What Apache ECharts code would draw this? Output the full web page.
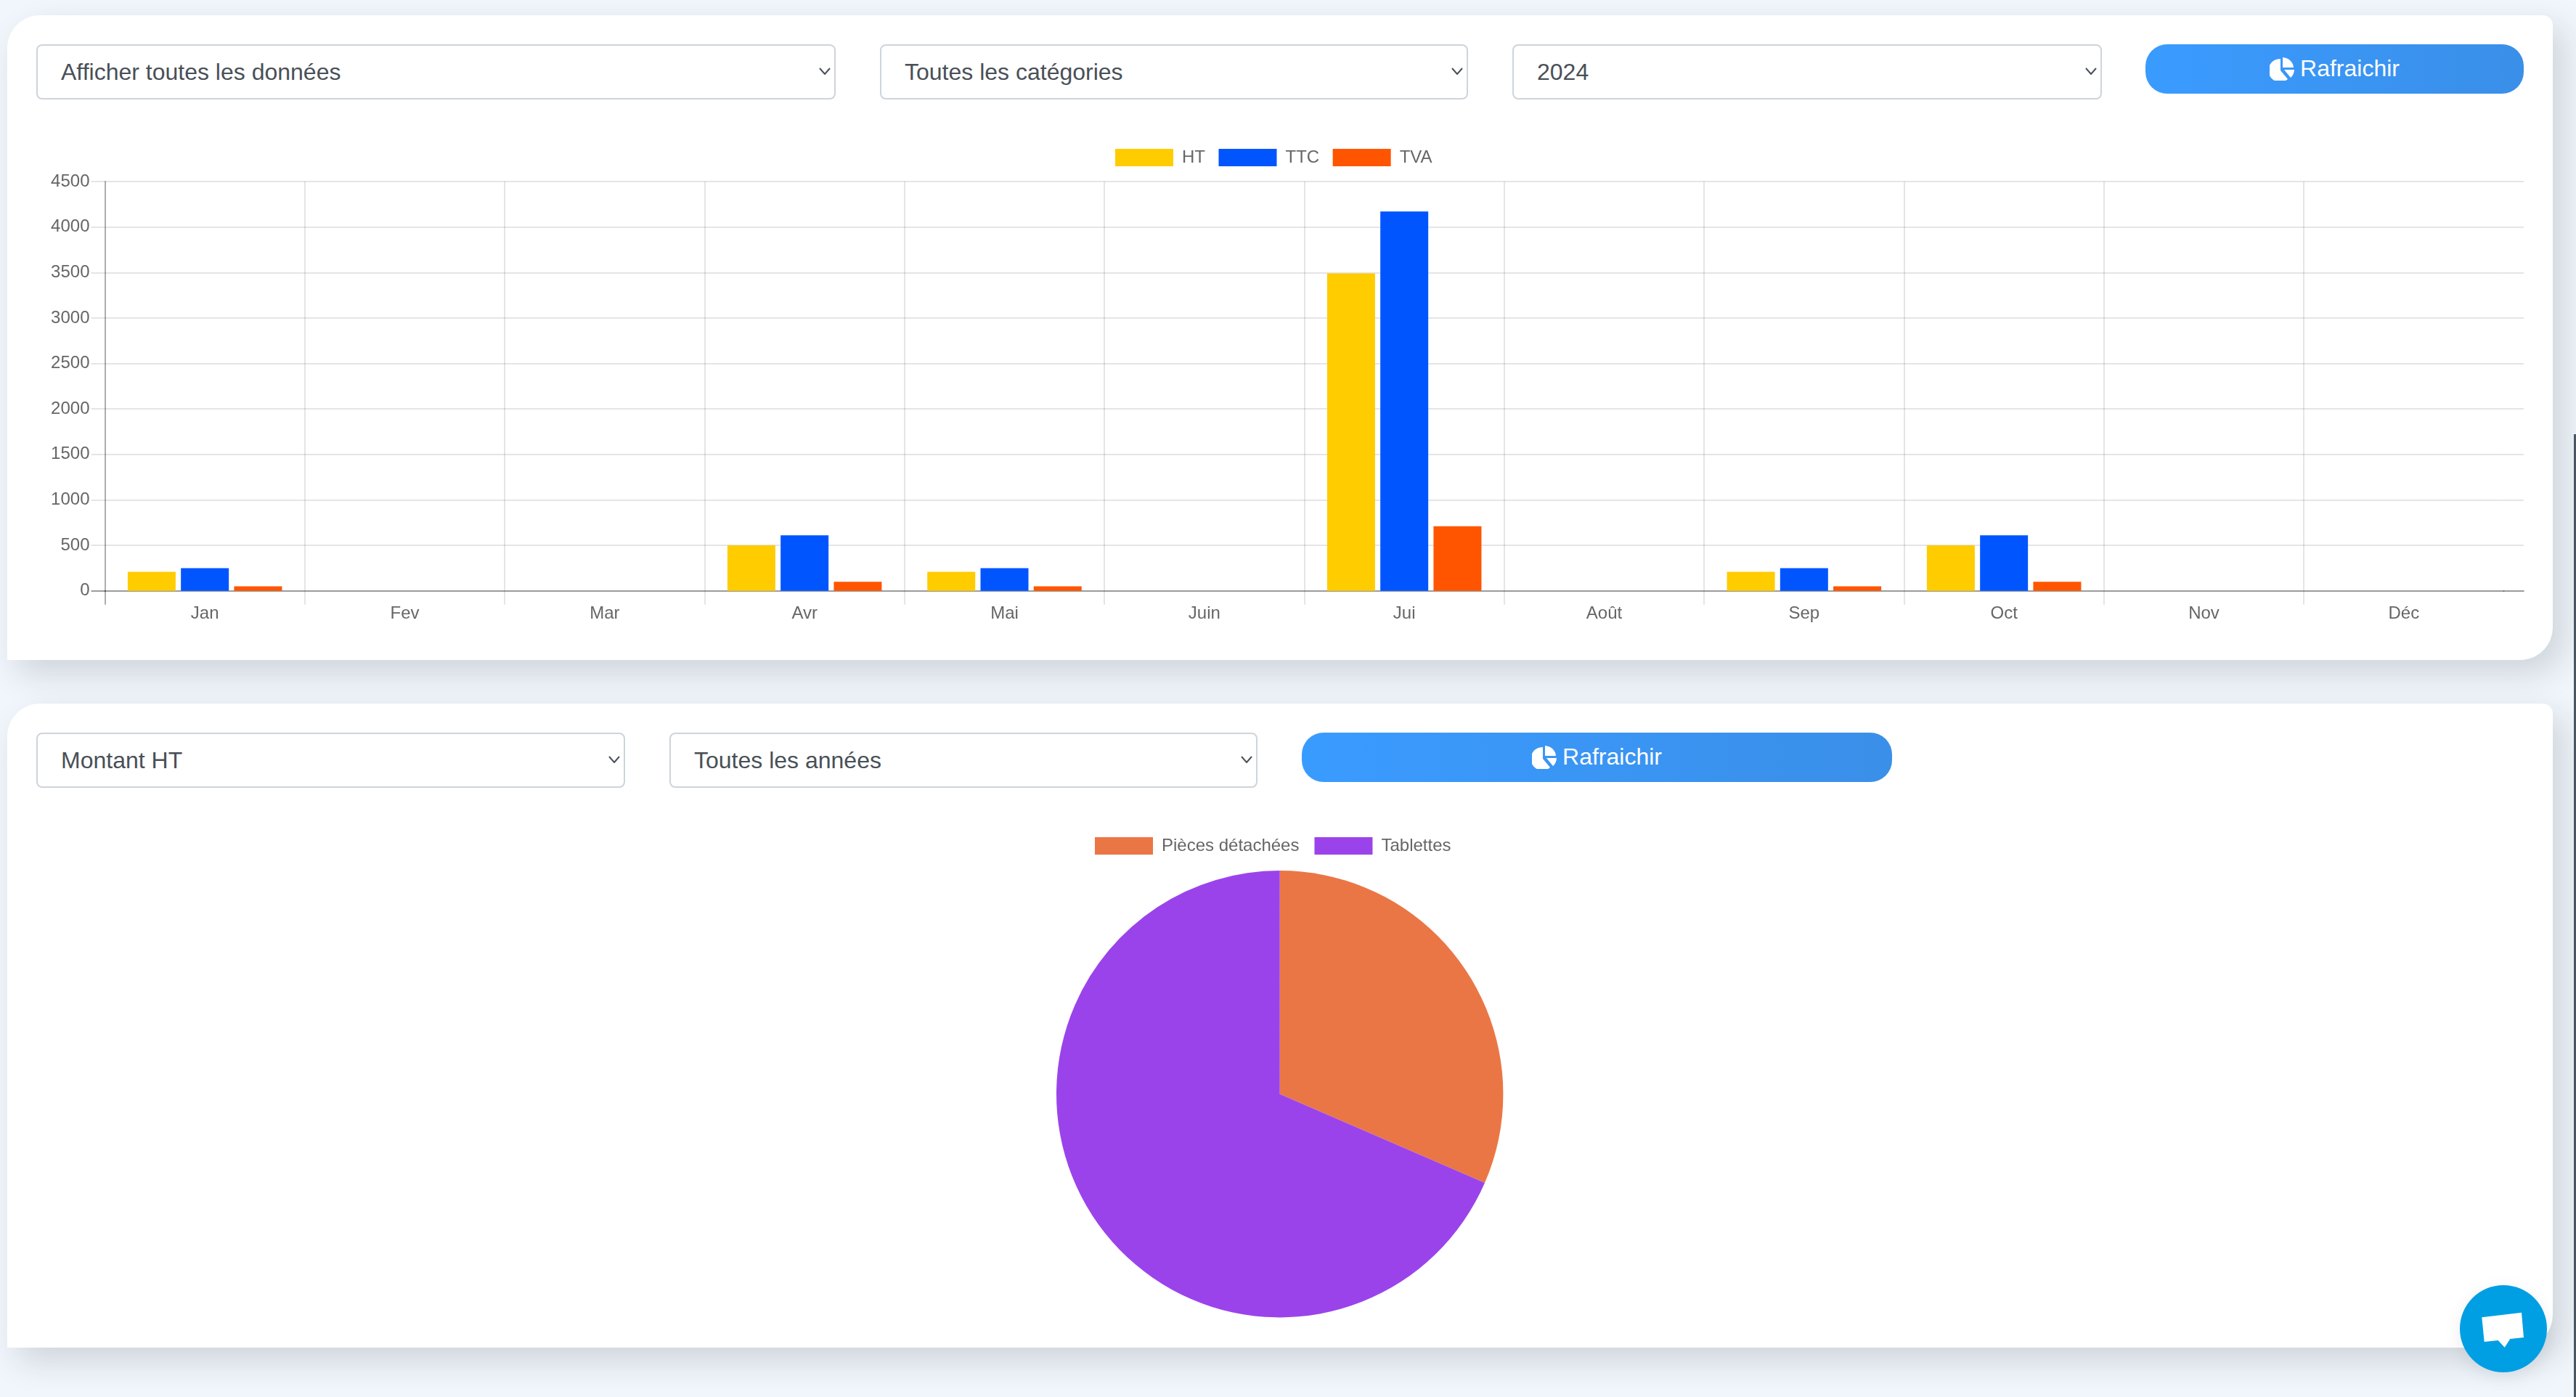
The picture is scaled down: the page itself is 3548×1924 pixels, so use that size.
<!DOCTYPE html>
<html lang="fr">
<head>
<meta charset="utf-8">
<title>Statistiques</title>
<script src="https://cdn.jsdelivr.net/npm/echarts@6/dist/echarts.min.js"></script>
<style>
  html, body { margin: 0; padding: 0; width: 3548px; height: 1924px; overflow: hidden; background: #f0f6fb; font-family: "Liberation Sans", Arial, sans-serif; }
  .card { position: absolute; left: 10px; width: 3506px; background: #fff; border-radius: 45px 14px 45px 0; box-shadow: 15px 18px 45px rgba(30, 40, 50, 0.16); }
  #card1 { top: 21px; height: 888px; }
  #card2 { top: 969px; height: 887px; }
  .select { position: absolute; box-sizing: border-box; height: 76px; border: 2px solid #ced4da; border-radius: 8px; background: #fff; color: #495057; font-size: 32px; line-height: 72px; padding-left: 32px; }
  .select svg { position: absolute; right: 5px; top: 30px; }
  .btn { position: absolute; height: 68px; border-radius: 30px; background: linear-gradient(90deg, #3a9bff, #3a8fe8); color: #fff; font-size: 32px; line-height: 66px; text-align: center; }
  .btn svg { vertical-align: -6px; margin-right: 8px; }
  .chart { position: absolute; left: 10px; width: 3506px; }
  #bars { top: 190px; height: 715px; }
  #pie { top: 1130px; height: 715px; }
  #chat { position: absolute; left: 3388px; top: 1770px; width: 120px; height: 120px; border-radius: 60px; background: #009fe3; box-shadow: 0 6px 24px rgba(0, 0, 0, 0.08); }
  #scroll { position: absolute; left: 3545px; top: 598px; width: 3px; height: 1326px; background: #4b5563; }
</style>
</head>
<body>
<div class="card" id="card1"></div>
<div class="card" id="card2"></div>

<div class="select" style="left:50px;top:61px;width:1101px">Afficher toutes les données<svg width="16" height="10" viewBox="0 0 16 10"><path d="M1 1l7 8 7-8" fill="none" stroke="#495057" stroke-width="2"/></svg></div>
<div class="select" style="left:1212px;top:61px;width:810px">Toutes les catégories<svg width="16" height="10" viewBox="0 0 16 10"><path d="M1 1l7 8 7-8" fill="none" stroke="#495057" stroke-width="2"/></svg></div>
<div class="select" style="left:2083px;top:61px;width:812px">2024<svg width="16" height="10" viewBox="0 0 16 10"><path d="M1 1l7 8 7-8" fill="none" stroke="#495057" stroke-width="2"/></svg></div>
<div class="btn" style="left:2955px;top:61px;width:521px"><svg width="34" height="32" viewBox="0 0 34 32"><path d="M15 2v16l10 12a16 16 0 1 1-10-28zM18 0a16 15 0 0 1 15 14H18zM20 17h14a16 16 0 0 1-5 11z" fill="#fff"/></svg>Rafraichir</div>

<div class="select" style="left:50px;top:1009px;width:811px">Montant HT<svg width="16" height="10" viewBox="0 0 16 10"><path d="M1 1l7 8 7-8" fill="none" stroke="#495057" stroke-width="2"/></svg></div>
<div class="select" style="left:922px;top:1009px;width:810px">Toutes les années<svg width="16" height="10" viewBox="0 0 16 10"><path d="M1 1l7 8 7-8" fill="none" stroke="#495057" stroke-width="2"/></svg></div>
<div class="btn" style="left:1793px;top:1009px;width:813px"><svg width="34" height="32" viewBox="0 0 34 32"><path d="M15 2v16l10 12a16 16 0 1 1-10-28zM18 0a16 15 0 0 1 15 14H18zM20 17h14a16 16 0 0 1-5 11z" fill="#fff"/></svg>Rafraichir</div>

<div class="chart" id="bars"></div>
<div class="chart" id="pie"></div>

<div id="chat"><svg width="120" height="120" viewBox="0 0 120 120"><path d="M30.3 44.3L85 37.7 88 72 69.3 74 61.7 85.7 52.7 76 33.7 78z" fill="#fff"/></svg></div>
<div id="scroll"></div>

<script>
// valeurs
const months = ['Jan', 'Fev', 'Mar', 'Avr', 'Mai', 'Juin', 'Jui', 'Août', 'Sep', 'Oct', 'Nov', 'Déc'];
const htValues = [210, 0, 0, 500, 210, 0, 3490, 0, 210, 500, 0, 0];
const ttcValues = [250, 0, 0, 610, 250, 0, 4170, 0, 250, 610, 0, 0];
const tvaValues = [50, 0, 0, 100, 50, 0, 710, 0, 50, 100, 0, 0];
const boundaryTicks = [1, 2, 3, 4, 5, 6, 7, 8, 9, 10, 11];
const pieLabels = ['Pièces détachées', 'Tablettes'];
const pieValues = [1610, 3500];

const gridColor = 'rgba(0,0,0,0.1)';
const axisColor = 'rgba(0,0,0,0.32)';
const textStyle = { color: '#666', fontSize: 24, fontFamily: 'Liberation Sans' };

const hiddenValueAxis = {
  type: 'value',
  axisLabel: { show: false },
  axisTick: { show: false },
  axisLine: { show: false },
  splitLine: { show: false }
};

const barChart = echarts.init(document.getElementById('bars'));
barChart.setOption({
  animation: false,
  legend: {
    left: 1526 - 5,
    top: 10,
    padding: 5,
    icon: 'rect',
    itemWidth: 80,
    itemHeight: 24,
    itemGap: 18.5,
    selectedMode: false,
    textStyle: { ...textStyle, padding: [0, 0, 0, 7] }
  },
  grid: [
    { left: 134.5, top: 60, width: 3304, height: 563.7, outerBoundsMode: 'none' },
    // le quadrillage horizontal dépasse la dernière colonne
    { left: 3438.5, top: 60, width: 27.5, height: 563.7, outerBoundsMode: 'none' }
  ],
  xAxis: [
    {
      type: 'category',
      gridIndex: 0,
      position: 'bottom',
      data: months,
      axisLabel: { ...textStyle, margin: 20 },
      axisTick: { show: false },
      axisLine: { show: false },
      splitLine: { show: false }
    },
    {
      ...hiddenValueAxis,
      gridIndex: 0,
      position: 'bottom',
      min: 0,
      max: 12,
      interval: 1,
      axisTick: { show: true, length: 19, customValues: boundaryTicks, lineStyle: { color: gridColor, width: 2 } },
      splitLine: { show: true, lineStyle: { color: gridColor, width: 2 } }
    },
    {
      ...hiddenValueAxis,
      gridIndex: 0,
      position: 'bottom',
      min: 0,
      max: 12,
      interval: 1,
      axisTick: { show: true, length: 19, customValues: [0], lineStyle: { color: axisColor, width: 2 } },
      axisLine: { show: true, onZero: false, lineStyle: { color: axisColor, width: 2 } }
    },
    {
      ...hiddenValueAxis,
      gridIndex: 1,
      position: 'bottom',
      min: 0,
      max: 1,
      axisLine: { show: true, onZero: false, lineStyle: { color: axisColor, width: 2 } }
    }
  ],
  yAxis: [
    {
      type: 'value',
      gridIndex: 0,
      position: 'left',
      min: 0,
      max: 4500,
      interval: 500,
      axisLabel: { ...textStyle, margin: 21, formatter: (value) => String(value) },
      axisTick: { show: true, length: 19, lineStyle: { color: gridColor, width: 2 } },
      axisLine: { show: true, onZero: false, lineStyle: { color: axisColor, width: 2 } },
      splitLine: { show: true, lineStyle: { color: gridColor, width: 2 } }
    },
    {
      ...hiddenValueAxis,
      gridIndex: 0,
      position: 'left',
      min: 0,
      max: 4500,
      axisTick: { show: true, length: 19, customValues: [0], lineStyle: { color: axisColor, width: 2 } }
    },
    {
      ...hiddenValueAxis,
      gridIndex: 1,
      position: 'left',
      min: 0,
      max: 4500,
      interval: 500,
      splitLine: { show: true, lineStyle: { color: gridColor, width: 2 } }
    }
  ],
  series: [
    { name: 'HT', type: 'bar', xAxisIndex: 0, yAxisIndex: 0, barWidth: 66, barGap: '11%', itemStyle: { color: '#ffcc00' }, data: htValues },
    { name: 'TTC', type: 'bar', xAxisIndex: 0, yAxisIndex: 0, barWidth: 66, barGap: '11%', itemStyle: { color: '#0055ff' }, data: ttcValues },
    { name: 'TVA', type: 'bar', xAxisIndex: 0, yAxisIndex: 0, barWidth: 66, barGap: '11%', itemStyle: { color: '#ff5500' }, data: tvaValues }
  ]
});

const pieChart = echarts.init(document.getElementById('pie'));
pieChart.setOption({
  animation: false,
  color: ['#eb7645', '#9b43eb'],
  legend: {
    left: 1498,
    top: 23,
    padding: 0,
    icon: 'rect',
    itemWidth: 80,
    itemHeight: 24,
    itemGap: 21,
    selectedMode: false,
    textStyle: { ...textStyle, padding: [0, 0, 0, 7] }
  },
  series: [
    {
      type: 'pie',
      center: [1752.7, 376.7],
      radius: 307.7,
      startAngle: 90,
      clockwise: true,
      label: { show: false },
      labelLine: { show: false },
      data: pieLabels.map((name, i) => ({ name: name, value: pieValues[i] }))
    }
  ]
});
</script>
</body>
</html>
